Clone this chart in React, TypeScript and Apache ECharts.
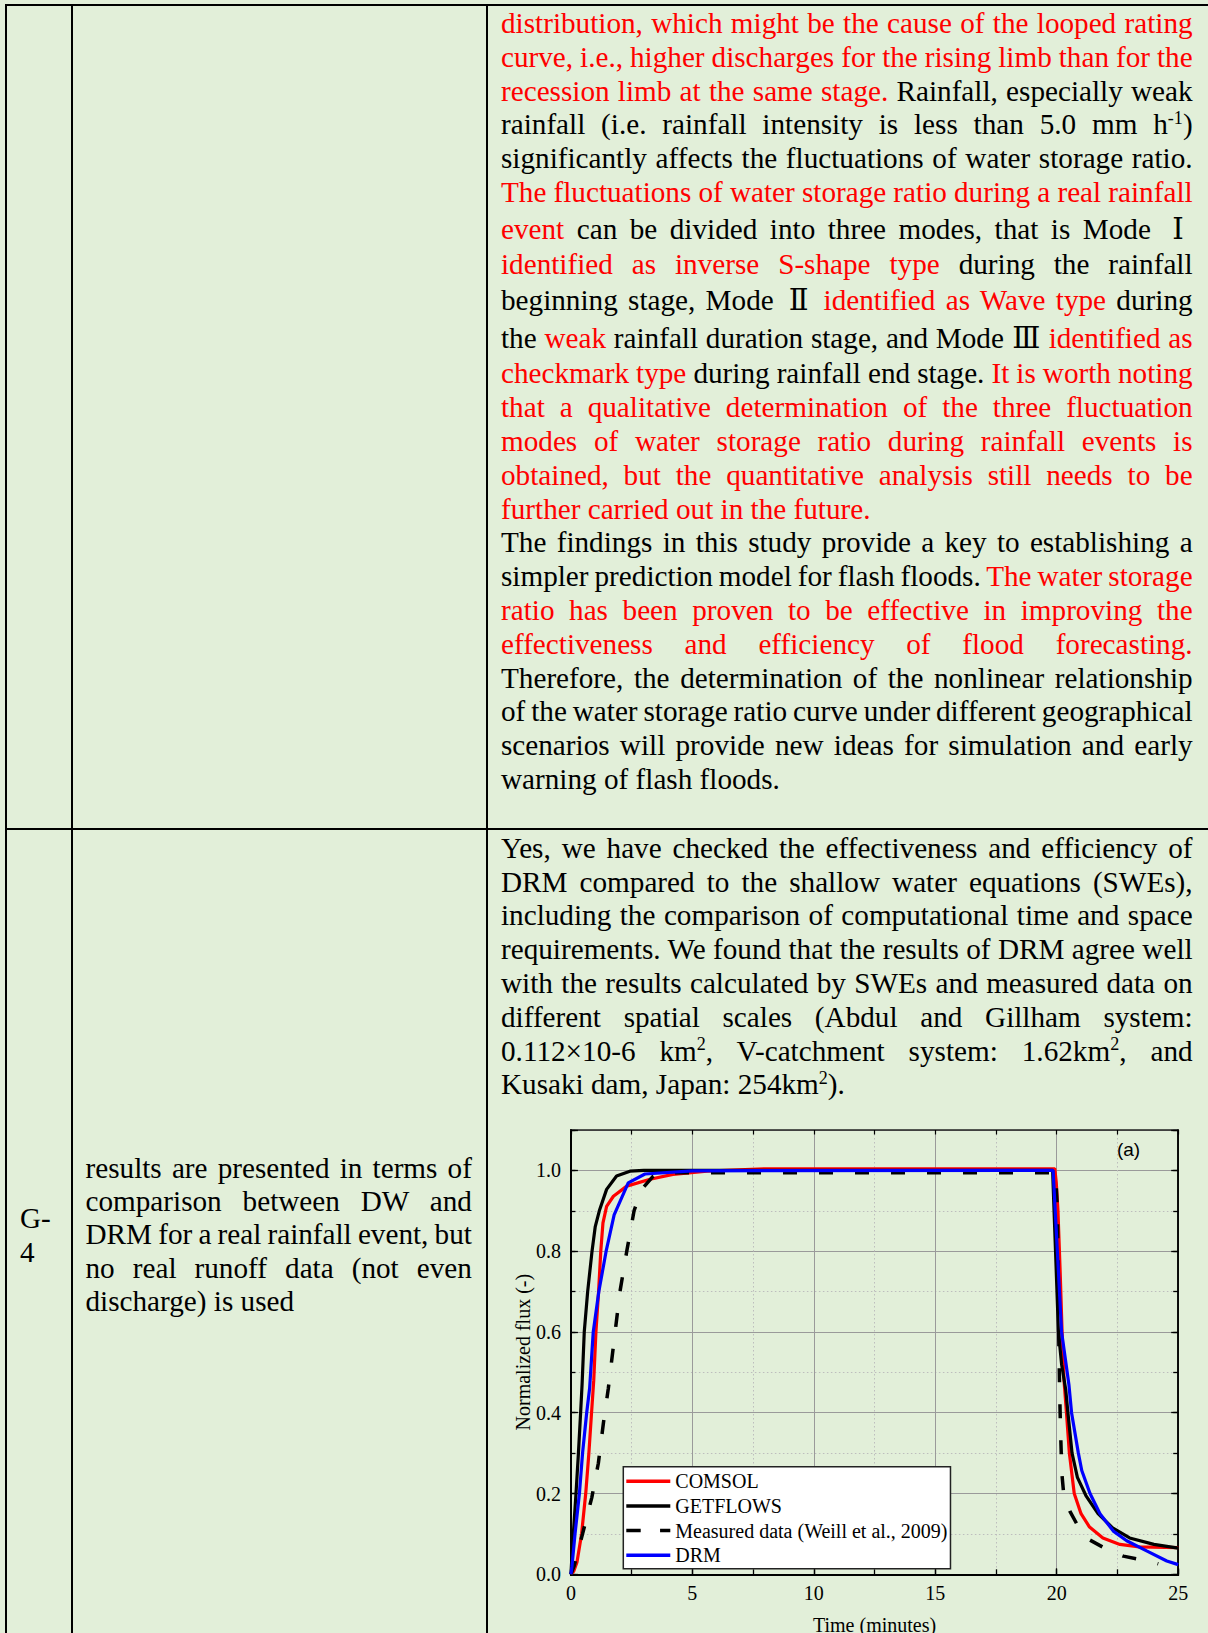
import React, { useEffect, useLayoutEffect, useRef } from 'react';
import * as echarts from 'echarts';

// ---------------- data ----------------
const seriesNames = ['COMSOL', 'GETFLOWS', 'Measured data (Weill et al., 2009)', 'DRM'];

const comsolT = [0, 0.12, 0.25, 0.44, 0.61, 0.74, 0.85, 0.94, 1.03, 1.14, 1.23, 1.32, 1.47, 1.75, 2.3, 3.26, 4.2, 5.6, 8, 19.92, 19.98, 20.05, 20.14, 20.22, 20.3, 20.4, 20.52, 20.72, 21.0, 21.35, 21.9, 22.6, 23.4, 25];
const comsolV = [0, 0.008, 0.03, 0.1, 0.2, 0.3, 0.4, 0.48, 0.6, 0.7, 0.8, 0.87, 0.911, 0.936, 0.961, 0.978, 0.99, 0.998, 1.004, 1.004, 0.97, 0.9, 0.75, 0.6, 0.48, 0.4, 0.3, 0.2, 0.15, 0.117, 0.09, 0.074, 0.068, 0.066];

const getflowsT = [0, 0.02, 0.1, 0.21, 0.31, 0.4, 0.46, 0.55, 0.69, 0.87, 1.0, 1.17, 1.47, 1.88, 2.43, 3.0, 19.83, 19.95, 20.07, 20.2, 20.37, 20.46, 20.63, 20.85, 21.2, 21.7, 22.3, 23.0, 24.0, 25];
const getflowsV = [0, 0.02, 0.1, 0.2, 0.3, 0.4, 0.47, 0.6, 0.7, 0.8, 0.86, 0.9, 0.953, 0.986, 0.998, 1.0, 1.0, 0.8, 0.6, 0.52, 0.457, 0.4, 0.3, 0.24, 0.195, 0.15, 0.115, 0.09, 0.074, 0.065];

const measuredT = [0, 0.13, 0.48, 0.86, 1.13, 1.34, 1.54, 1.82, 2.02, 2.3, 2.6, 2.91, 3.39, 4.2, 19.95, 20.03, 20.08, 20.12, 20.16, 20.21, 20.3, 20.55, 20.96, 21.3, 22.12, 22.74, 23.57, 24.18];
const measuredV = [0, 0.02, 0.1, 0.19, 0.275, 0.375, 0.46, 0.6, 0.7, 0.8, 0.9, 0.953, 0.986, 0.994, 0.994, 0.9, 0.6, 0.45, 0.35, 0.25, 0.19, 0.155, 0.11, 0.087, 0.06, 0.045, 0.035, 0.026];

const drmT = [0, 0.045, 0.17, 0.35, 0.48, 0.65, 0.77, 0.92, 1.15, 1.45, 1.78, 2.36, 3.05, 5.0, 19.85, 20.2, 20.5, 20.61, 20.89, 21.03, 21.37, 21.78, 22.33, 22.88, 23.7, 24.53, 25];
const drmV = [0, 0.02, 0.1, 0.2, 0.3, 0.4, 0.46, 0.6, 0.7, 0.8, 0.89, 0.969, 0.991, 0.999, 1.0, 0.6, 0.47, 0.4, 0.3, 0.257, 0.2, 0.15, 0.107, 0.083, 0.058, 0.033, 0.024];

const xAxisName = 'Time (minutes)';
const yAxisName = 'Normalized flux (-)';
const panelLabel = '(a)';

// ---------------- text ----------------
type Seg = [string, string?];
const row1Lines: Seg[][] = [
  [['distribution, which might be the cause of the looped rating', 'r']],
  [['curve, i.e., higher discharges for the rising limb than for the', 'r']],
  [['recession limb at the same stage.', 'r'], [' Rainfall, especially weak']],
  [['rainfall (i.e. rainfall intensity is less than 5.0 mm h'], ['-1', 'sup'], [')']],
  [['significantly affects the fluctuations of water storage ratio.']],
  [['The fluctuations of water storage ratio during a real rainfall', 'r']],
  [['event', 'r'], [' can be divided into three modes, that is Mode '], ['Ⅰ', 'cjk']],
  [['identified as inverse S-shape type', 'r'], [' during the rainfall']],
  [['beginning stage, Mode '], ['Ⅱ', 'cjk'], [' '], ['identified as Wave type', 'r'], [' during']],
  [['the '], ['weak', 'r'], [' rainfall duration stage, and Mode '], ['Ⅲ', 'cjk'], [' '], ['identified as', 'r']],
  [['checkmark type', 'r'], [' during rainfall end stage. '], ['It is worth noting', 'r']],
  [['that a qualitative determination of the three fluctuation', 'r']],
  [['modes of water storage ratio during rainfall events is', 'r']],
  [['obtained, but the quantitative analysis still needs to be', 'r']],
  [['further carried out in the future.', 'r']],
  [['The findings in this study provide a key to establishing a']],
  [['simpler prediction model for flash floods. '], ['The water storage', 'r']],
  [['ratio has been proven to be effective in improving the', 'r']],
  [['effectiveness and efficiency of flood forecasting.', 'r']],
  [['Therefore, the determination of the nonlinear relationship']],
  [['of the water storage ratio curve under different geographical']],
  [['scenarios will provide new ideas for simulation and early']],
  [['warning of flash floods.']],
];
const row1Base = [31.7, 65.3, 99, 132.8, 166.5, 200.2, 237, 272, 308, 346, 381.5, 415.5, 449.3, 483.1, 516.9, 550.7, 584.5, 618.3, 652.1, 685.9, 719.7, 753.5, 787.3];
const row1Left = [14, 22]; // non-justified line indexes

const row2Lines: Seg[][] = [
  [['Yes, we have checked the effectiveness and efficiency of']],
  [['DRM compared to the shallow water equations (SWEs),']],
  [['including the comparison of computational time and space']],
  [['requirements. We found that the results of DRM agree well']],
  [['with the results calculated by SWEs and measured data on']],
  [['different spatial scales (Abdul and Gillham system:']],
  [['0.112×10-6 km'], ['2', 'sup'], [', V-catchment system: 1.62km'], ['2', 'sup'], [', and']],
  [['Kusaki dam, Japan: 254km'], ['2', 'sup'], [').']],
];
const row2Base = [856.2, 890, 923.8, 957.6, 991.4, 1025.2, 1059, 1092.8];

const col2Lines: Seg[][] = [
  [['results are presented in terms of']],
  [['comparison between DW and']],
  [['DRM for a real rainfall event, but']],
  [['no real runoff data (not even']],
  [['discharge) is used']],
];
const col2Base = [1176.4, 1209.3, 1242.7, 1276.1, 1309.7];

const col1Lines: Seg[][] = [[['G-']], [['4']]];
const col1Base = [1226.2, 1260];

// ---------------- styles ----------------
const BG = '#E2EFD9';
const RED = '#FF0000';
const FS = 29.2;
const BASE_OFF = 22.4;
const SERIF = '"Liberation Serif", "Times New Roman", serif';

function segStyle(s?: string): React.CSSProperties {
  if (s === 'r') return { color: RED };
  if (s === 'sup') return { fontSize: '0.62em', position: 'relative', top: '-0.6em', lineHeight: 0 };
  if (s === 'cjk')
    return {
      fontFamily: '"DejaVu Serif", "Noto Sans CJK SC"',
      fontWeight: 300,
      lineHeight: 0,
      display: 'inline-block',
      width: '1em',
      textAlign: 'center',
    };
  return {};
}

function TextLine({ segs, x, base, w, justify }: { segs: Seg[]; x: number; base: number; w: number; justify: boolean }) {
  const ref = useRef<HTMLSpanElement>(null);
  useLayoutEffect(() => {
    const el = ref.current;
    if (!el || !justify) return;
    const fit = () => {
      el.style.wordSpacing = '0px';
      const nat = el.getBoundingClientRect().width;
      const n = (el.textContent || '').split(' ').length - 1;
      if (n > 0) el.style.wordSpacing = `${(w - nat) / n}px`;
    };
    fit();
    const f = (document as any).fonts;
    if (f && f.ready) f.ready.then(fit);
  }, [justify, w]);
  return (
    <div
      style={{
        position: 'absolute',
        left: x,
        top: base - BASE_OFF,
        height: FS,
        lineHeight: `${FS}px`,
        fontSize: FS,
        whiteSpace: 'nowrap',
        fontFamily: SERIF,
        color: '#000',
      }}
    >
      <span ref={ref}>
        {segs.map(([t, s], i) => (
          <span key={i} style={segStyle(s)}>
            {t}
          </span>
        ))}
      </span>
    </div>
  );
}

// ---------------- chart ----------------
const CH_LEFT = 488;
const CH_TOP = 1100;
const CH_W = 720;
const CH_H = 533;

const pairs = (t: number[], v: number[]) => t.map((x, i) => [x, v[i]]);

const axisFont = { fontFamily: 'Liberation Serif', fontSize: 20, color: '#000' };

function buildOption(): any {
  const base = { type: 'value', min: 0 };
  const xCommon = { ...base, max: 25 };
  const yCommon = { ...base, max: 1.1 };
  const LW = 3.2;
  return {
    animation: false,
    grid: { left: 82.9, right: 29.8, top: 30, bottom: 58.7, containLabel: false, outerBoundsMode: 'none' },
    xAxis: [
      {
        ...xCommon,
        interval: 2.5,
        position: 'bottom',
        axisLine: { show: true, onZero: false, lineStyle: { color: '#000', width: 2 } },
        axisTick: { show: true, inside: true, length: 5, lineStyle: { color: '#000', width: 1.3 } },
        axisLabel: { show: false },
        splitLine: { show: true, lineStyle: { color: '#bdbdbd', width: 1, type: [1.5, 2.5] } },
      },
      {
        ...xCommon,
        interval: 5,
        position: 'bottom',
        name: xAxisName,
        nameLocation: 'middle',
        nameGap: 41,
        nameMoveOverlap: false,
        nameTextStyle: axisFont,
        axisLine: { show: true, onZero: false, lineStyle: { color: '#000', width: 2 } },
        axisTick: { show: true, inside: true, length: 6, lineStyle: { color: '#000', width: 1.3 } },
        axisLabel: { show: true, margin: 9, ...axisFont, formatter: (v: number) => String(v) },
        splitLine: { show: true, lineStyle: { color: '#9a9a9a', width: 1 } },
      },
      {
        ...xCommon,
        interval: 2.5,
        position: 'top',
        axisLine: { show: true, onZero: false, lineStyle: { color: '#222', width: 1.5 } },
        axisTick: { show: true, inside: true, length: 4.5, lineStyle: { color: '#000', width: 1.2 } },
        axisLabel: { show: false },
        splitLine: { show: false },
      },
    ],
    yAxis: [
      {
        ...yCommon,
        interval: 0.1,
        position: 'left',
        axisLine: { show: true, onZero: false, lineStyle: { color: '#000', width: 2 } },
        axisTick: { show: true, inside: true, length: 4.5, lineStyle: { color: '#000', width: 1.3 } },
        axisLabel: { show: false },
        splitLine: { show: true, lineStyle: { color: '#bdbdbd', width: 1, type: [1.5, 2.5] } },
      },
      {
        ...yCommon,
        interval: 0.2,
        position: 'left',
        name: yAxisName,
        nameLocation: 'middle',
        nameGap: 38,
        nameMoveOverlap: false,
        nameTextStyle: axisFont,
        axisLine: { show: true, onZero: false, lineStyle: { color: '#000', width: 2 } },
        axisTick: { show: true, inside: true, length: 7, lineStyle: { color: '#000', width: 1.3 } },
        axisLabel: { show: true, margin: 10, ...axisFont, formatter: (v: number) => (v > 1.05 ? '' : v.toFixed(1)) },
        splitLine: { show: true, lineStyle: { color: '#9a9a9a', width: 1 } },
      },
      {
        ...yCommon,
        interval: 0.1,
        position: 'right',
        axisLine: { show: true, onZero: false, lineStyle: { color: '#000', width: 1.5 } },
        axisTick: { show: true, inside: true, length: 5, lineStyle: { color: '#000', width: 1.3 } },
        axisLabel: { show: false },
        splitLine: { show: false },
      },
      {
        ...yCommon,
        interval: 0.2,
        position: 'right',
        axisLine: { show: true, onZero: false, lineStyle: { color: '#000', width: 1.5 } },
        axisTick: { show: true, inside: true, length: 7, lineStyle: { color: '#000', width: 1.3 } },
        axisLabel: { show: false },
        splitLine: { show: false },
      },
    ],
    legend: {
      orient: 'vertical',
      left: 135.3,
      top: 366.7,
      backgroundColor: '#fff',
      borderColor: '#222',
      borderWidth: 1.5,
      borderRadius: 0,
      padding: [4.5, 3, 3.5, 3],
      itemWidth: 44,
      itemHeight: 3.5,
      itemGap: 4.7,
      selectedMode: false,
      textStyle: axisFont,
      data: [
        { name: seriesNames[0], icon: 'rect' },
        { name: seriesNames[1], icon: 'rect' },
        { name: seriesNames[2], icon: 'path://M0,0h14.5v3.5h-14.5zM34,0h10.3v3.5h-10.3z' },
        { name: seriesNames[3], icon: 'rect' },
      ],
    },
    graphic: [
      {
        type: 'text',
        x: 640.5,
        y: 49.7,
        style: { text: panelLabel, fontSize: 19, fontFamily: 'Liberation Sans', fill: '#000', align: 'center', verticalAlign: 'middle' },
      },
    ],
    series: [
      {
        name: seriesNames[0], type: 'line', xAxisIndex: 1, yAxisIndex: 1, symbol: 'none', showSymbol: false,
        data: pairs(comsolT, comsolV), lineStyle: { color: RED, width: LW }, itemStyle: { color: RED },
      },
      {
        name: seriesNames[1], type: 'line', xAxisIndex: 1, yAxisIndex: 1, symbol: 'none', showSymbol: false,
        data: pairs(getflowsT, getflowsV), lineStyle: { color: '#000', width: LW }, itemStyle: { color: '#000' },
      },
      {
        name: seriesNames[2], type: 'line', xAxisIndex: 1, yAxisIndex: 1, symbol: 'none', showSymbol: false,
        data: pairs(measuredT, measuredV), lineStyle: { color: '#000', width: 3.5, type: [14, 22] }, itemStyle: { color: '#000' },
      },
      {
        name: seriesNames[3], type: 'line', xAxisIndex: 1, yAxisIndex: 1, symbol: 'none', showSymbol: false,
        data: pairs(drmT, drmV), lineStyle: { color: '#0000FF', width: LW }, itemStyle: { color: '#0000FF' },
      },
    ],
  };
}

function Chart() {
  const ref = useRef<HTMLDivElement>(null);
  useEffect(() => {
    if (!ref.current) return;
    const chart = echarts.init(ref.current, null, { renderer: 'svg' });
    chart.setOption(buildOption());
    return () => chart.dispose();
  }, []);
  return <div ref={ref} style={{ position: 'absolute', left: CH_LEFT, top: CH_TOP, width: CH_W, height: CH_H }} />;
}

// ---------------- page ----------------
const bar = (l: number, t: number, w: number, h: number): React.CSSProperties => ({
  position: 'absolute', left: l, top: t, width: w, height: h, background: '#000',
});

export default function App() {
  const C3_X = 501;
  const C3_W = 691.6;
  const C2_X = 85.5;
  const C2_W = 386.4;
  return (
    <div style={{ position: 'absolute', left: 0, top: 0, width: 1208, height: 1633, overflow: 'hidden', background: BG }}>
      {/* table borders */}
      <div style={bar(5, 4, 1203, 2)} />
      <div style={bar(5, 4, 2, 1629)} />
      <div style={bar(70.7, 4, 2, 1629)} />
      <div style={bar(486.3, 4, 2, 1629)} />
      <div style={bar(5, 827.5, 1203, 2)} />

      {row1Lines.map((segs, i) => (
        <TextLine key={'a' + i} segs={segs} x={C3_X} base={row1Base[i]} w={C3_W} justify={!row1Left.includes(i)} />
      ))}
      {row2Lines.map((segs, i) => (
        <TextLine key={'b' + i} segs={segs} x={C3_X} base={row2Base[i]} w={C3_W} justify={i < row2Lines.length - 1} />
      ))}
      {col2Lines.map((segs, i) => (
        <TextLine key={'c' + i} segs={segs} x={C2_X} base={col2Base[i]} w={C2_W} justify={i < col2Lines.length - 1} />
      ))}
      {col1Lines.map((segs, i) => (
        <TextLine key={'d' + i} segs={segs} x={20} base={col1Base[i]} w={40} justify={false} />
      ))}

      <Chart />
    </div>
  );
}
